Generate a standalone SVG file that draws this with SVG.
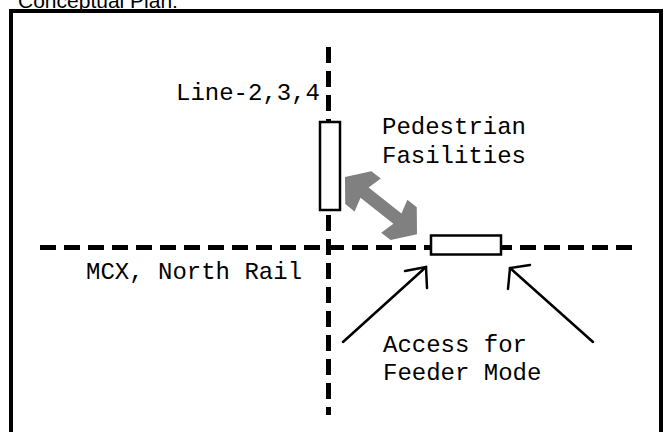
<svg xmlns="http://www.w3.org/2000/svg" width="663" height="432" viewBox="0 0 663 432">
<style>
.mono{font-family:"Liberation Mono","Courier New",monospace;font-size:24px;fill:#000}
.dash{stroke:#000;stroke-width:5;stroke-dasharray:16 8;fill:none}
.box{fill:#fff;stroke:#000;stroke-width:2.5}
.acc{stroke:#000;stroke-width:2.5;fill:none;stroke-linecap:round;stroke-linejoin:miter}
</style>
<rect width="663" height="432" fill="#fff"/>
<text x="18" y="8" font-family="Liberation Sans, Arial, sans-serif" font-size="21" fill="#000">Conceptual Plan:</text>
<rect x="11" y="11" width="650" height="440" fill="none" stroke="#000" stroke-width="4"/>
<g id="connectors">
<line class="dash" x1="328.5" y1="47" x2="328.5" y2="415"/>
<line class="dash" x1="40" y1="247.5" x2="632" y2="247.5"/>
<g id="ped-arrow" transform="translate(345,177) rotate(38.5)">
<polygon fill="#808080" points="0,0 17,-21 29,-21 25,-6.5 67,-6.5 63,-21 75,-21 92,0 75,21 63,21 67,6.5 25,6.5 29,21 17,21"/>
</g>
<polyline class="acc" points="343,342 426,267"/>
<polyline class="acc" points="405,271 426,267 427,288"/>
<polyline class="acc" points="593,342 510,268"/>
<polyline class="acc" points="530,265 510,268 508,289"/>
</g>
<g id="node-line234"><rect class="box" x="320" y="122" width="20" height="88"/></g>
<g id="node-mcx"><rect class="box" x="431" y="235.5" width="70" height="19"/></g>
<g id="labels">
<text class="mono" x="176" y="100">Line-2,3,4</text>
<text class="mono" x="382" y="134">Pedestrian</text>
<text class="mono" x="382" y="163">Fasilities</text>
<text class="mono" x="86" y="279">MCX, North Rail</text>
<text class="mono" x="383" y="352">Access for</text>
<text class="mono" x="383" y="380">Feeder Mode</text>
</g>
</svg>
